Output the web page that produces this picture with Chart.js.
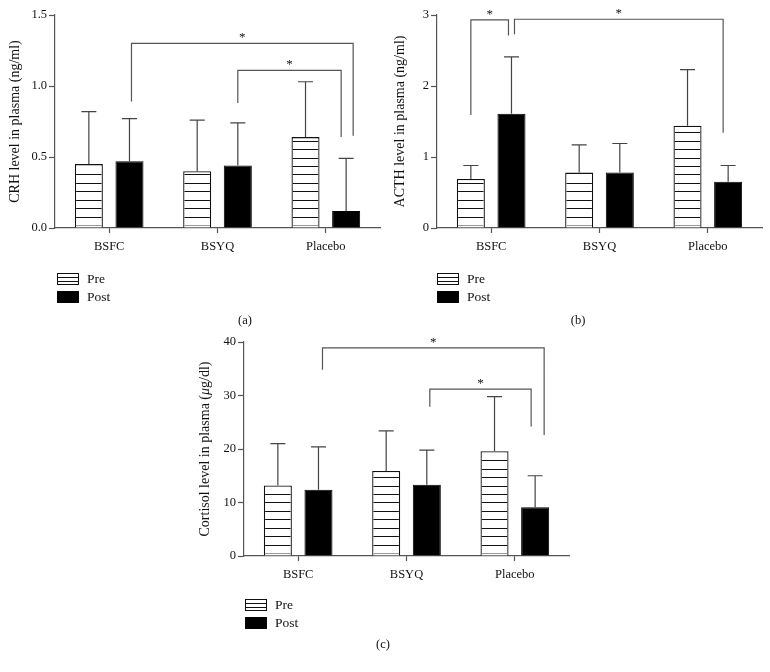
<!DOCTYPE html>
<html>
<head>
<meta charset="utf-8">
<title>CRH, ACTH and cortisol</title>
<script src="https://cdn.jsdelivr.net/npm/chart.js@4.4.1/dist/chart.umd.min.js"></script>
<style>
    body { margin: 0; background: #fff; }
    #wrap { position: relative; width: 770px; height: 672px; }
    canvas { position: absolute; }
</style>
</head>
<body>
<div id="wrap">
    <canvas id="chartA" width="385" height="330" style="left:0;top:0"></canvas>
    <canvas id="chartB" width="385" height="330" style="left:385px;top:0"></canvas>
    <canvas id="chartC" width="400" height="342" style="left:190px;top:330px"></canvas>
</div>
<script>
var groups = ['BSFC', 'BSYQ', 'Placebo'];
var seriesNames = ['Pre', 'Post'];

// (a) CRH, ng/ml
var crhPre = [0.45, 0.40, 0.64];
var crhPreSd = [0.37, 0.36, 0.39];
var crhPost = [0.47, 0.44, 0.12];
var crhPostSd = [0.30, 0.30, 0.37];
var crhTicks = [0, 0.5, 1.0, 1.5];

// (b) ACTH, ng/ml
var acthPre = [0.69, 0.78, 1.44];
var acthPreSd = [0.19, 0.39, 0.79];
var acthPost = [1.61, 0.78, 0.65];
var acthPostSd = [0.80, 0.41, 0.23];
var acthTicks = [0, 1, 2, 3];

// (c) cortisol, ug/dl
var cortPre = [13.2, 15.9, 19.6];
var cortPreSd = [7.8, 7.5, 10.2];
var cortPost = [12.4, 13.3, 9.1];
var cortPostSd = [8.0, 6.5, 5.9];
var cortTicks = [0, 10, 20, 30, 40];

(function (window, document) {
    'use strict';

    var FONT = "'Liberation Serif', 'DejaVu Serif', serif";
    var INK = '#111';
    var LINE = '#555';

    Chart.defaults.font.family = FONT;
    Chart.defaults.color = INK;

    // significance brackets: [category, dataset, dx, bottom value], top value
    var crhBrackets = [
        { from: [0, 1, 2, 0.89], to: [2, 1, 7, 0.65], top: 1.30 },
        { from: [1, 1, 0, 0.88], to: [2, 1, -5, 0.64], top: 1.11 }
    ];
    var acthBrackets = [
        { from: [0, 0, 0, 1.59], to: [0, 1, -3, 2.71], top: 2.93 },
        { from: [0, 1, 3, 2.73], to: [2, 1, -5, 1.34], top: 2.94 }
    ];
    var cortBrackets = [
        { from: [0, 1, 4, 34.8], to: [2, 1, 9, 22.6], top: 38.9 },
        { from: [1, 1, 3, 27.9], to: [2, 1, -4, 24.2], top: 31.2 }
    ];

    var extras = {
        id: 'extras',
        afterDatasetsDraw: function (chart, args, o) {
            var ctx = chart.ctx;
            var ys = chart.scales.y;
            var pre = chart.getDatasetMeta(0);

            ctx.save();
            // horizontal hatching in the Pre bars
            pre.data.forEach(function (bar) {
                var p = bar.getProps(['x', 'y', 'base', 'width'], true);
                var l = p.x - p.width / 2 + 1.3;
                var r = p.x + p.width / 2 - 1.3;
                ctx.lineWidth = 1;
                ctx.strokeStyle = '#999';
                ctx.beginPath();
                ctx.moveTo(l, Math.round(p.base - 2.5) + 0.5);
                ctx.lineTo(r, Math.round(p.base - 2.5) + 0.5);
                ctx.stroke();
                ctx.strokeStyle = INK;
                ctx.beginPath();
                for (var yy = p.base - 2.5 - 8.43; yy > p.y + 3; yy -= 8.43) {
                    ctx.moveTo(l, Math.round(yy) + 0.5);
                    ctx.lineTo(r, Math.round(yy) + 0.5);
                }
                ctx.stroke();
            });

            // error bars (upper only)
            ctx.strokeStyle = '#444';
            ctx.lineWidth = 1.2;
            chart.data.datasets.forEach(function (ds, i) {
                chart.getDatasetMeta(i).data.forEach(function (bar, j) {
                    var top = ys.getPixelForValue(ds.data[j] + ds.sd[j]);
                    ctx.beginPath();
                    ctx.moveTo(bar.x, bar.y);
                    ctx.lineTo(bar.x, top);
                    ctx.moveTo(bar.x - 7.5, top);
                    ctx.lineTo(bar.x + 7.5, top);
                    ctx.stroke();
                });
            });

            // brackets with stars
            ctx.strokeStyle = LINE;
            ctx.lineWidth = 1.2;
            ctx.fillStyle = INK;
            ctx.font = '13px ' + FONT;
            ctx.textAlign = 'center';
            ctx.textBaseline = 'alphabetic';
            o.brackets.forEach(function (b) {
                var x1 = chart.getDatasetMeta(b.from[1]).data[b.from[0]].x + b.from[2];
                var x2 = chart.getDatasetMeta(b.to[1]).data[b.to[0]].x + b.to[2];
                var yt = ys.getPixelForValue(b.top);
                ctx.beginPath();
                ctx.moveTo(x1, ys.getPixelForValue(b.from[3]));
                ctx.lineTo(x1, yt);
                ctx.lineTo(x2, yt);
                ctx.lineTo(x2, ys.getPixelForValue(b.to[3]));
                ctx.stroke();
                ctx.fillText('*', (x1 + x2) / 2, yt - 2);
            });
            ctx.restore();
        },
        afterDraw: function (chart, args, o) {
            var ctx = chart.ctx;
            var area = chart.chartArea;

            ctx.save();
            // y axis title, drawn in pieces so that mu can be italic
            ctx.translate(o.titleX, (area.top + area.bottom) / 2);
            ctx.rotate(-Math.PI / 2);
            ctx.textBaseline = 'middle';
            ctx.fillStyle = INK;
            var total = 0;
            o.title.forEach(function (seg) {
                ctx.font = (seg.italic ? 'italic ' : '') + '14px ' + FONT;
                seg.w = ctx.measureText(seg.text).width;
                total += seg.w;
            });
            var x = -total / 2;
            ctx.textAlign = 'left';
            o.title.forEach(function (seg) {
                ctx.font = (seg.italic ? 'italic ' : '') + '14px ' + FONT;
                ctx.fillText(seg.text, x, 0);
                x += seg.w;
            });
            ctx.restore();

            // legend
            ctx.save();
            var lx = o.legend[0], ly = o.legend[1];
            ctx.lineWidth = 1;
            ctx.strokeStyle = INK;
            ctx.fillStyle = '#fff';
            ctx.fillRect(lx, ly, 22, 12);
            ctx.strokeRect(lx + 0.5, ly + 0.5, 21, 11);
            ctx.beginPath();
            ctx.moveTo(lx, ly + 4.5);
            ctx.lineTo(lx + 22, ly + 4.5);
            ctx.moveTo(lx, ly + 8.5);
            ctx.lineTo(lx + 22, ly + 8.5);
            ctx.stroke();
            ctx.fillStyle = '#000';
            ctx.fillRect(lx, ly + 18, 22, 12);
            ctx.fillStyle = INK;
            ctx.font = '13.5px ' + FONT;
            ctx.textAlign = 'left';
            ctx.textBaseline = 'middle';
            ctx.fillText(chart.data.datasets[0].label, lx + 30, ly + 6);
            ctx.fillText(chart.data.datasets[1].label, lx + 30, ly + 24);

            // panel tag
            ctx.font = '12.5px ' + FONT;
            ctx.textAlign = 'center';
            ctx.fillText(o.tag[0], o.tag[1], o.tag[2]);
            ctx.restore();
        }
    };

    var Panels = function () {
        var _this = this;

        this.build = function (p) {
            return new Chart(document.getElementById(p.canvas), {
                type: 'bar',
                data: {
                    labels: groups,
                    datasets: [
                        {
                            label: seriesNames[0],
                            data: p.pre,
                            sd: p.preSd,
                            backgroundColor: '#fff',
                            borderColor: INK,
                            borderWidth: 1.3
                        },
                        {
                            label: seriesNames[1],
                            data: p.post,
                            sd: p.postSd,
                            backgroundColor: '#000',
                            borderColor: '#000',
                            borderWidth: 1
                        }
                    ]
                },
                options: {
                    responsive: false,
                    animation: false,
                    categoryPercentage: 0.75,
                    barPercentage: 0.69,
                    layout: { padding: { left: 0, top: p.padTop, right: p.padRight, bottom: 0 } },
                    plugins: {
                        legend: { display: false },
                        tooltip: { enabled: false },
                        extras: {
                            brackets: p.brackets,
                            title: p.title,
                            titleX: 15,
                            legend: p.legend,
                            tag: p.tag
                        }
                    },
                    scales: {
                        x: {
                            offset: true,
                            grid: {
                                offset: false,
                                drawOnChartArea: false,
                                tickLength: 5,
                                tickWidth: 1.2,
                                tickColor: LINE
                            },
                            border: { color: LINE, width: 1.2 },
                            ticks: { font: { size: 12.5 }, color: INK, padding: 6 },
                            afterFit: function (scale) { scale.height = p.xHeight; }
                        },
                        y: {
                            min: p.ticks[0],
                            max: p.ticks[p.ticks.length - 1],
                            grid: {
                                drawOnChartArea: false,
                                tickLength: 6,
                                tickWidth: 1.2,
                                tickColor: LINE
                            },
                            border: { color: LINE, width: 1.2 },
                            ticks: {
                                font: { size: 12.5 },
                                color: INK,
                                padding: 2,
                                callback: function (v) { return v.toFixed(p.decimals); }
                            },
                            afterBuildTicks: function (scale) {
                                scale.ticks = p.ticks.map(function (v) { return { value: v }; });
                            },
                            afterFit: function (scale) { scale.width = p.yWidth; }
                        }
                    }
                },
                plugins: [extras]
            });
        };

        this.run = function () {
            _this.build({
                canvas: 'chartA', pre: crhPre, preSd: crhPreSd, post: crhPost, postSd: crhPostSd,
                ticks: crhTicks, decimals: 1, brackets: crhBrackets,
                title: [{ text: 'CRH level in plasma (ng/ml)' }],
                yWidth: 55, xHeight: 102, padTop: 15, padRight: 5,
                legend: [57, 273], tag: ['(a)', 245, 321]
            });
            _this.build({
                canvas: 'chartB', pre: acthPre, preSd: acthPreSd, post: acthPost, postSd: acthPostSd,
                ticks: acthTicks, decimals: 0, brackets: acthBrackets,
                title: [{ text: 'ACTH level in plasma (ng/ml)' }],
                yWidth: 52, xHeight: 102, padTop: 15, padRight: 8,
                legend: [52, 273], tag: ['(b)', 193, 321]
            });
            _this.build({
                canvas: 'chartC', pre: cortPre, preSd: cortPreSd, post: cortPost, postSd: cortPostSd,
                ticks: cortTicks, decimals: 0, brackets: cortBrackets,
                title: [
                    { text: 'Cortisol level in plasma (' },
                    { text: 'μ', italic: true },
                    { text: 'g/dl)' }
                ],
                yWidth: 54, xHeight: 116, padTop: 12, padRight: 21,
                legend: [55, 269], tag: ['(c)', 193, 315]
            });
        };
    };

    new Panels().run();

})(window, document);
</script>
</body>
</html>
